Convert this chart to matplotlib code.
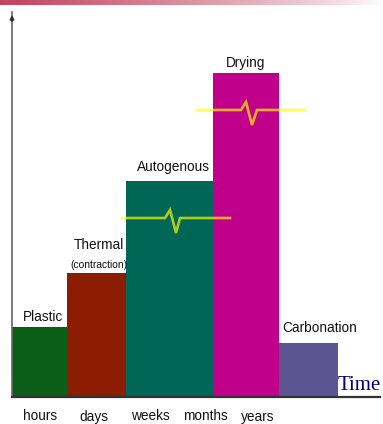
import numpy as np
import matplotlib
matplotlib.use("Agg")
import matplotlib.pyplot as plt

# ---- data ----
categories = ["Plastic", "Thermal", "Autogenous", "Drying", "Carbonation"]
bar_edges = [0, 55, 114, 201, 267, 326]          # relative time scale (bar boundaries)
heights = [70, 124, 216, 324, 54]                # relative magnitude of shrinkage
colors = ["#0a5e18", "#8c1c02", "#006656", "#c0008a", "#5b5592"]
tick_labels = ["hours", "days", "weeks", "months", "years"]
tick_pos = [28, 82, 138, 193, 246]
# break marks (flat line with a zig-zag) on the Autogenous and Drying bars
break_x = [[110, 153, 158, 164, 168, 218], [185, 229, 234, 240, 245, 293]]
break_y = [[179, 179, 187, 164, 179, 179], [287, 287, 295, 272, 287, 287]]

W, H = 383, 424
fig = plt.figure(figsize=(W / 100, H / 100), dpi=100)

# decorative gradient band at top
band = fig.add_axes([0, 1 - 5 / H, 1, 5 / H])
grad = np.linspace(0, 1, 256)
c0 = np.array([0.76, 0.26, 0.38])
rgb = c0[None, :] * (1 - grad[:, None]) ** 0.8 + np.ones(3)[None, :] * (1 - (1 - grad[:, None]) ** 0.8)
band.imshow(rgb[None, :, :], aspect="auto", extent=[0, 1, 0, 1])
band.axis("off")

x0, x1, y0, y1 = 12, 380, 397, 12
ax = fig.add_axes([x0 / W, 1 - y0 / H, (x1 - x0) / W, (y0 - y1) / H])
ax.set_xlim(0, x1 - x0)
ax.set_ylim(0, y0 - y1)

lefts = bar_edges[:-1]
widths = np.diff(bar_edges)
ax.bar(lefts, heights, width=widths, align="edge", color=colors, edgecolor="none", zorder=2)

txt_col = "#111111"
fam = "Liberation Sans"
offsets = {"Plastic": 2.5, "Autogenous": 5, "Drying": 2.5, "Carbonation": 5.5}
xshift = {"Plastic": 3, "Thermal": 2, "Autogenous": 4, "Drying": 0, "Carbonation": 11}
for i, (l, w, h, t) in enumerate(zip(lefts, widths, heights, categories)):
    cx = l + w / 2 + xshift[t]
    if t == "Thermal":
        ax.annotate("(contraction)", (cx, h), xytext=(0, 2.5), textcoords="offset points",
                    ha="center", va="bottom", fontsize=7.4, family=fam, color=txt_col)
        ax.annotate("Thermal", (cx, h), xytext=(0, 15), textcoords="offset points",
                    ha="center", va="bottom", fontsize=9.8, family=fam, color=txt_col)
    else:
        ax.annotate(t, (cx, h), xytext=(0, offsets[t]),
                    textcoords="offset points", ha="center", va="bottom",
                    fontsize=9.8, family=fam, color=txt_col)

for bx, by in zip(break_x, break_y):
    ax.plot(bx, by, color="#ffff00", lw=1.9, alpha=0.68, zorder=3,
            solid_joinstyle="miter")

ax.set_xticks(tick_pos)
ax.set_xticklabels(tick_labels, fontsize=9.8, family=fam, color=txt_col)
ax.tick_params(axis="x", length=0, pad=9)
ax.set_yticks([])
for s in ["top", "right"]:
    ax.spines[s].set_visible(False)
ax.spines["bottom"].set_color("#333333")
ax.spines["bottom"].set_linewidth(1.6)
ax.spines["left"].set_color("#666666")
ax.spines["left"].set_linewidth(1.2)
ax.spines["bottom"].set_zorder(4)

# y axis arrow head
ax.annotate("", xy=(0, y0 - y1), xytext=(0, y0 - y1 - 12),
            arrowprops=dict(arrowstyle="-|>", color="#333333", lw=1.2,
                            mutation_scale=6), annotation_clip=False)

ax.text(x1 - x0 + 1, 2, "Time", ha="right", va="bottom", fontsize=15,
        family="Liberation Serif", color="#00007a")

fig.savefig("out.png", dpi=100)
